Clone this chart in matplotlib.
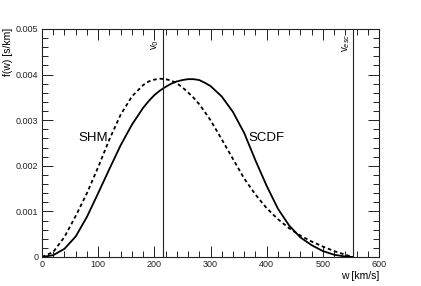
import matplotlib
matplotlib.use('Agg')
import matplotlib.pyplot as plt
from matplotlib.ticker import MultipleLocator, FixedFormatter, FixedLocator

plt.rcParams['font.family'] = ['Liberation Sans', 'DejaVu Sans']

# speed grid [km/s]
w = [0, 20, 40, 60, 80, 100, 120, 140, 160, 180, 190, 200, 210, 220, 230, 240,
     250, 260, 270, 280, 290, 300, 320, 340, 360, 380, 400, 420, 440, 460, 480,
     500, 520, 540, 553]
# f(w) [s/km]
shm = [0, 0.00011, 0.00044, 0.00090, 0.00140, 0.00197, 0.00258, 0.00312, 0.00352,
       0.00377, 0.00385, 0.00389, 0.00391, 0.00390, 0.00387, 0.00381, 0.00372,
       0.00361, 0.00349, 0.00335, 0.00318, 0.00300, 0.00258, 0.00215, 0.00172,
       0.00137, 0.00107, 0.00083, 0.00063, 0.00047, 0.00034, 0.00023, 0.00013,
       0.00005, 0]
scdf = [0, 0.00004, 0.00018, 0.00045, 0.00088, 0.00140, 0.00193, 0.00245, 0.00290,
        0.00327, 0.00342, 0.00355, 0.00365, 0.00373, 0.00380, 0.00385, 0.00388,
        0.00390, 0.00390, 0.00388, 0.00382, 0.00375, 0.00352, 0.00318, 0.00272,
        0.00212, 0.00156, 0.00106, 0.00069, 0.00043, 0.00026, 0.00013, 0.00005,
        0.00001, 0]

v0 = 216
vesc = 553

xticks = [0, 100, 200, 300, 400, 500, 600]
yticks = [0, 0.001, 0.002, 0.003, 0.004, 0.005]
yticklabels = ['0', '0.001', '0.002', '0.003', '0.004', '0.005']

fig = plt.figure(figsize=(4.21, 2.86), dpi=100)
ax = fig.add_axes([42 / 421, 1 - 257 / 286, 337 / 421, 228 / 286])

ax.plot(w, shm, color='black', lw=1.3, ls=(0, (2, 1.6)))
ax.plot(w, scdf, color='black', lw=1.3)
ax.axvline(v0, color='#222222', lw=0.8)
ax.axvline(vesc, color='#222222', lw=0.8)

ax.set_xlim(0, 600)
ax.set_ylim(0, 0.005)
ax.xaxis.set_major_locator(FixedLocator(xticks))
ax.xaxis.set_minor_locator(MultipleLocator(20))
ax.yaxis.set_major_locator(FixedLocator(yticks))
ax.yaxis.set_major_formatter(FixedFormatter(yticklabels))
ax.yaxis.set_minor_locator(MultipleLocator(0.0002))
ax.tick_params(which='both', direction='in', top=True, right=True,
               labelsize=6.5, width=0.7, colors='#222222')
ax.tick_params(which='major', length=8, pad=2.5)
ax.tick_params(which='minor', length=4)
for s in ax.spines.values():
    s.set_linewidth(0.8)
    s.set_color('#222222')

ax.text(64, 0.0026, 'SHM', fontsize=9.5, va='center', ha='left')
ax.text(367, 0.0026, 'SCDF', fontsize=9.5, va='center', ha='left')
ax.text(v0 - 4, 0.00477, r'v$_0$', rotation=90, fontsize=7, ha='right', va='top')
ax.text(vesc - 1, 0.0049, r'v$_{esc}$', rotation=90, fontsize=7, ha='right', va='top')

fig.text(8 / 421, 1 - 28 / 286, 'f(w) [s/km]', rotation=90, fontsize=7.5,
         ha='center', va='top')
fig.text(379 / 421, 1 - 276 / 286, 'w [km/s]', fontsize=7.5, ha='right', va='center')

fig.savefig('out.png', dpi=100)
